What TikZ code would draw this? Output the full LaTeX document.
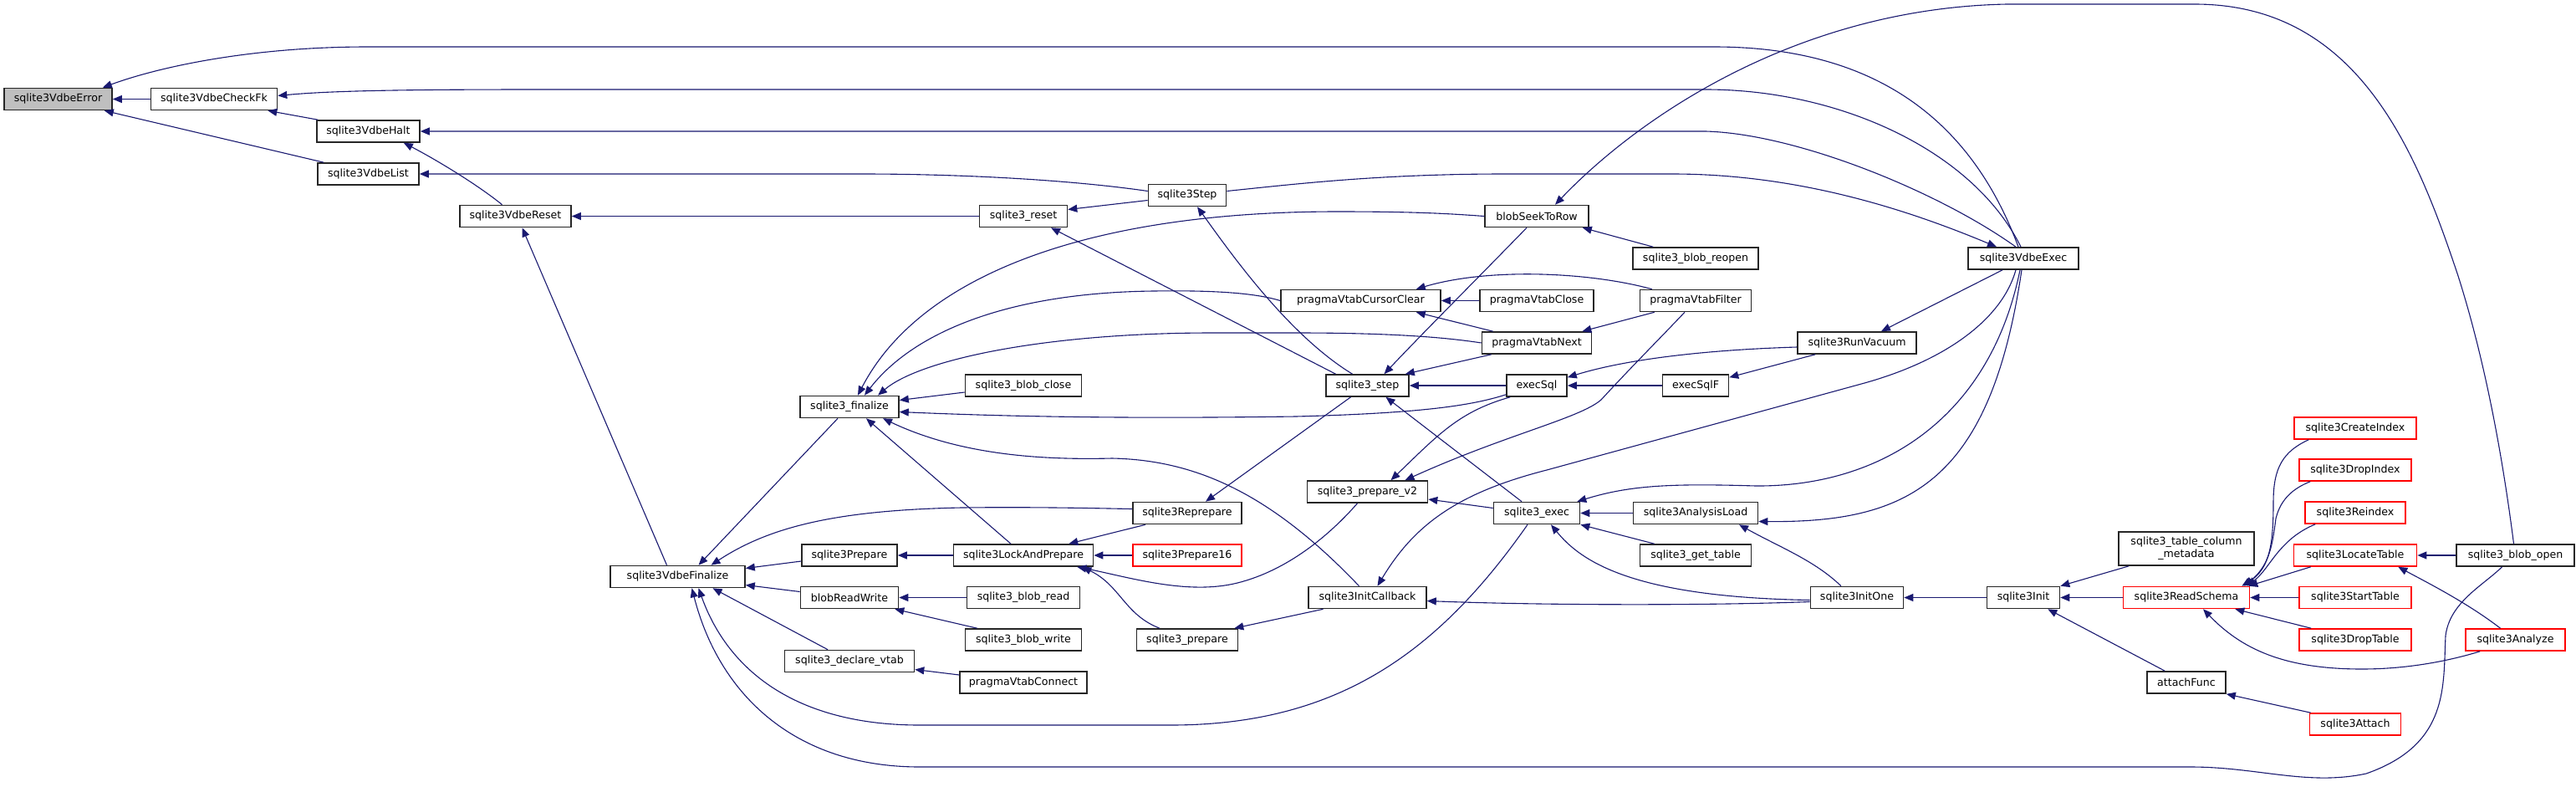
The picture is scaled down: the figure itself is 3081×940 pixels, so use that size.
\documentclass[tikz,border=0pt]{standalone}
\usepackage{fontspec}
\setmainfont{DejaVu Sans}
\usetikzlibrary{arrows.meta}

\definecolor{edgeblue}{HTML}{191970}
\definecolor{rootgrey}{HTML}{BFBFBF}
\definecolor{truncred}{HTML}{FF0000}

\begin{document}
\begin{tikzpicture}[
    x=1pt, y=-1pt,
    font=\fontsize{12.6}{15}\selectfont,
    func/.style={rectangle, draw=black!85, fill=white, line width=1.6pt, minimum height=26pt, inner sep=0pt, align=center},
    root/.style={func, fill=rootgrey},
    trunc/.style={func, draw=truncred},
    call/.style={draw=edgeblue, line width=1.1pt, {Triangle[length=11pt, width=9pt]}-}
]
\useasboundingbox (0,0) rectangle (3081,940);

% Root and its direct callers
\node[root, minimum width=129pt] (error) at (69.5,118.5) {sqlite3VdbeError};
\node[func, minimum width=151pt] (checkfk) at (256,118.5) {sqlite3VdbeCheckFk};
\node[func, minimum width=123pt] (halt) at (440.5,157) {sqlite3VdbeHalt};
\node[func, minimum width=121pt] (list) at (440.5,208) {sqlite3VdbeList};
\node[func, minimum width=133pt] (reset) at (616.5,258.5) {sqlite3VdbeReset};
\node[func, minimum width=161pt] (finalize) at (810.5,689.5) {sqlite3VdbeFinalize};

% Finalize / prepare layer
\node[func, minimum width=118pt] (fin) at (1016,486.5) {sqlite3\_finalize};
\node[func, minimum width=114pt] (prepare) at (1016,664) {sqlite3Prepare};
\node[func, minimum width=117pt] (readwrite) at (1016,714.5) {blobReadWrite};
\node[func, minimum width=155pt] (declarevtab) at (1016,790.5) {sqlite3\_declare\_vtab};
\node[func, minimum width=105pt] (sreset) at (1224,258.5) {sqlite3\_reset};
\node[func, minimum width=139pt] (blobclose) at (1224,461) {sqlite3\_blob\_close};
\node[func, minimum width=167pt] (lockprepare) at (1224,664) {sqlite3LockAndPrepare};
\node[func, minimum width=135pt] (blobread) at (1224,714.5) {sqlite3\_blob\_read};
\node[func, minimum width=139pt] (blobwrite) at (1224,765) {sqlite3\_blob\_write};
\node[func, minimum width=152pt] (vtabconnect) at (1224,816) {pragmaVtabConnect};
\node[func, minimum width=93pt] (step) at (1420,233.5) {sqlite3Step};
\node[func, minimum width=130pt] (reprepare) at (1420,613.5) {sqlite3Reprepare};
\node[trunc, minimum width=130pt] (prepare16) at (1420,664) {sqlite3Prepare16};
\node[func, minimum width=121pt] (sprepare) at (1420,765) {sqlite3\_prepare};

% Step / exec layer
\node[func, minimum width=99pt] (sstep) at (1635.5,461) {sqlite3\_step};
\node[func, minimum width=191pt] (cursorclear) at (1627.5,359.5) {pragmaVtabCursorClear};
\node[func, minimum width=144pt] (preparev2) at (1635.5,588) {sqlite3\_prepare\_v2};
\node[func, minimum width=141pt] (initcallback) at (1635.5,714.5) {sqlite3InitCallback};
\node[func, minimum width=124pt] (seektorow) at (1838,258.5) {blobSeekToRow};
\node[func, minimum width=136pt] (vtabclose) at (1838,359.5) {pragmaVtabClose};
\node[func, minimum width=131pt] (vtabnext) at (1838,410) {pragmaVtabNext};
\node[func, minimum width=72pt] (execsql) at (1838,461) {execSql};
\node[func, minimum width=103pt] (exec) at (1838,613.5) {sqlite3\_exec};
\node[func, minimum width=150pt] (blobreopen) at (2028,309) {sqlite3\_blob\_reopen};
\node[func, minimum width=133pt] (vtabfilter) at (2028,359.5) {pragmaVtabFilter};
\node[func, minimum width=79pt] (execsqlf) at (2028,461) {execSqlF};
\node[func, minimum width=149pt] (analysisload) at (2028,613.5) {sqlite3AnalysisLoad};
\node[func, minimum width=133pt] (gettable) at (2028,664) {sqlite3\_get\_table};
\node[func, minimum width=142pt] (runvacuum) at (2221,410) {sqlite3RunVacuum};
\node[func, minimum width=111pt] (initone) at (2221,714.5) {sqlite3InitOne};
\node[func, minimum width=132pt] (vdbeexec) at (2420,309) {sqlite3VdbeExec};
\node[func, minimum width=87pt] (init) at (2420,714.5) {sqlite3Init};

% Schema layer
\node[func, minimum width=162pt, minimum height=40pt] (metadata) at (2615,656) {sqlite3\_table\_column\\\_metadata};
\node[trunc, minimum width=151pt] (readschema) at (2615,714.5) {sqlite3ReadSchema};
\node[func, minimum width=94pt] (attachfunc) at (2615,816) {attachFunc};
\node[trunc, minimum width=146pt] (createindex) at (2817,512) {sqlite3CreateIndex};
\node[trunc, minimum width=134pt] (dropindex) at (2817,562) {sqlite3DropIndex};
\node[trunc, minimum width=120pt] (reindex) at (2817,613) {sqlite3Reindex};
\node[trunc, minimum width=147pt] (locatetable) at (2817,664) {sqlite3LocateTable};
\node[trunc, minimum width=134pt] (starttable) at (2817,714.5) {sqlite3StartTable};
\node[trunc, minimum width=134pt] (droptable) at (2817,765) {sqlite3DropTable};
\node[trunc, minimum width=109pt] (attach) at (2817,866) {sqlite3Attach};
\node[func, minimum width=141pt] (blobopen) at (3008.5,664) {sqlite3\_blob\_open};
\node[trunc, minimum width=119pt] (analyze) at (3008.5,765) {sqlite3Analyze};

% Calls into the root
\draw[call] ([xshift=-12pt]error.north east) .. controls (190,80) and (300,56) .. (440,56) -- (2050,56) .. controls (2250,56) and (2360,150) .. ([xshift=-6pt]vdbeexec.north);
\draw[call] (error.east) -- (checkfk.west);
\draw[call] ([xshift=-10pt]error.south east) -- ([xshift=8pt]list.north west);
\draw[call] ([xshift=-12pt]checkfk.south east) -- ([xshift=2pt]halt.north west);
\draw[call] ([yshift=4pt]checkfk.east) .. controls (400,108) and (500,107) .. (650,107) -- (2040,107) .. controls (2200,107) and (2360,180) .. ([xshift=-3pt]vdbeexec.north);
\draw[call] (halt.east) -- (2040,157) .. controls (2150,160) and (2320,230) .. ([xshift=-9pt]vdbeexec.north);
\draw[call] ([xshift=-20pt]halt.south east) .. controls (520,190) and (570,220) .. ([xshift=-16pt]reset.north);
\draw[call] (list.east) -- (1030,208) .. controls (1150,208) and (1280,215) .. ([yshift=5pt]step.west);
\draw[call] (reset.east) -- (sreset.west);
\draw[call] ([xshift=8pt]reset.south) -- ([xshift=-13pt]finalize.north);

% sqlite3_reset and sqlite3Step
\draw[call] ([yshift=8pt]sreset.east) -- ([yshift=-6pt]step.west);
\draw[call] ([xshift=33pt]sreset.south) -- ([xshift=-38pt]sstep.north);
\draw[call] ([xshift=12pt]step.south) .. controls (1470,300) and (1540,400) .. ([xshift=-18pt]sstep.north);
\draw[call] ([xshift=-32pt]vdbeexec.north) .. controls (2280,250) and (2150,208) .. (2000,208) -- (1800,208) .. controls (1650,208) and (1550,220) .. ([yshift=5pt]step.east);

% Callers of sqlite3_finalize
\draw[call] ([xshift=10pt]fin.north) .. controls (1100,330) and (1300,253) .. (1600,253) .. controls (1700,253) and (1740,256) .. (seektorow.west);
\draw[call] ([xshift=18pt]fin.north) .. controls (1090,400) and (1200,350) .. (1380,348) .. controls (1450,347) and (1500,350) .. (cursorclear.west);
\draw[call] ([xshift=34pt]fin.north) .. controls (1100,430) and (1250,398) .. (1450,398) -- (1550,398) .. controls (1650,398) and (1720,402) .. (vtabnext.west);
\draw[call] ([yshift=8pt]fin.east) -- ([yshift=-8pt]blobclose.west);
\draw[call] ([yshift=-6pt]fin.east) .. controls (1250,500) and (1400,500) .. (1550,498) .. controls (1700,494) and (1760,485) .. ([yshift=3pt]execsql.south west);
\draw[call] ([xshift=20pt]fin.south) -- ([xshift=-15pt]lockprepare.north);
\draw[call] ([xshift=40pt]fin.south) .. controls (1150,545) and (1250,550) .. (1330,548) .. controls (1430,550) and (1520,590) .. ([xshift=-10pt]initcallback.north);

% Callers of sqlite3VdbeFinalize
\draw[call] ([xshift=25pt]finalize.north) -- ([xshift=-14pt]fin.south);
\draw[call] ([xshift=40pt]finalize.north) .. controls (920,630) and (1000,610) .. (1150,607) .. controls (1250,606) and (1320,608) .. ([yshift=5pt]reprepare.west);
\draw[call] ([yshift=10pt]finalize.east) -- ([yshift=-7pt]prepare.west);
\draw[call] ([yshift=-10pt]finalize.east) -- ([yshift=7pt]readwrite.west);
\draw[call] ([xshift=42pt]finalize.south) -- ([xshift=-26pt]declarevtab.north);
\draw[call] ([xshift=25pt]finalize.south) .. controls (870,800) and (950,867) .. (1100,867) -- (1400,867) .. controls (1600,867) and (1720,780) .. ([xshift=-11pt]exec.south);
\draw[call] ([xshift=17pt]finalize.south) .. controls (860,830) and (950,917) .. (1100,917) -- (2620,917) .. controls (2700,917) and (2760,940) .. (2830,925) .. controls (2930,890) and (2922,820) .. (2925,760) .. controls (2930,720) and (2970,700) .. ([xshift=-16pt]blobopen.south);

% Prepare family
\draw[call] (prepare.east) -- (lockprepare.west);
\draw[call] ([xshift=-30pt]lockprepare.north east) -- ([xshift=-50pt]reprepare.south);
\draw[call] (lockprepare.east) -- (prepare16.west);
\draw[call] ([xshift=-20pt]lockprepare.south east) .. controls (1350,690) and (1420,712) .. (1480,697) .. controls (1540,682) and (1590,640) .. ([xshift=-12pt]preparev2.south);
\draw[call] ([xshift=-14pt]lockprepare.south east) .. controls (1340,700) and (1345,735) .. ([xshift=-33pt]sprepare.north);
\draw[call] (readwrite.east) -- (blobread.west);
\draw[call] ([xshift=-5pt]readwrite.south east) -- ([xshift=15pt]blobwrite.north west);
\draw[call] ([yshift=-10pt]declarevtab.east) -- ([yshift=9pt]vtabconnect.west);
\draw[call] ([xshift=22pt]reprepare.north) -- ([xshift=-20pt]sstep.south);
\draw[call] ([xshift=-5pt]sprepare.north east) -- ([xshift=-53pt]initcallback.south);

% Callers of sqlite3_step
\draw[call] (sstep.east) -- (execsql.west);
\draw[call] ([xshift=-5pt]sstep.north east) -- ([xshift=12pt]vtabnext.south west);
\draw[call] ([xshift=20pt]sstep.north) .. controls (1700,400) and (1760,340) .. ([xshift=-12pt]seektorow.south);
\draw[call] ([xshift=22pt]sstep.south) -- ([xshift=-18pt]exec.north);

% Virtual table helpers
\draw[call] ([xshift=-30pt]cursorclear.north east) .. controls (1780,320) and (1900,325) .. ([xshift=15pt]vtabfilter.north west);
\draw[call] (cursorclear.east) -- (vtabclose.west);
\draw[call] ([xshift=-30pt]cursorclear.south east) -- ([xshift=14pt]vtabnext.north west);
\draw[call] ([xshift=-12pt]vtabnext.north east) -- ([xshift=18pt]vtabfilter.south west);

% Blob helpers
\draw[call] ([xshift=-8pt]seektorow.south east) -- ([xshift=25pt]blobreopen.north west);
\draw[call] ([xshift=22pt]seektorow.north) .. controls (1960,140) and (2150,10) .. (2400,5) -- (2625,5) .. controls (2820,5) and (2890,180) .. (2940,330) .. controls (2975,440) and (2995,560) .. ([xshift=-2pt]blobopen.north);

% execSql and vacuum
\draw[call] (execsql.east) -- (execsqlf.west);
\draw[call] ([yshift=-4pt]execsql.north east) .. controls (1950,428) and (2050,418) .. ([yshift=-5pt]runvacuum.west);
\draw[call] ([yshift=-4pt]execsqlf.north east) -- ([xshift=22pt]runvacuum.south west);
\draw[call] ([xshift=29pt]runvacuum.north) -- ([xshift=-25pt]vdbeexec.south);

% sqlite3_prepare_v2 and sqlite3_exec
\draw[call] ([xshift=28pt]preparev2.north) .. controls (1720,520) and (1745,492) .. ([xshift=5pt]execsql.south west);
\draw[call] ([xshift=45pt]preparev2.north) .. controls (1800,520) and (1890,500) .. (1915,478) .. controls (1950,440) and (1980,410) .. ([xshift=-13pt]vtabfilter.south);
\draw[call] ([yshift=-9pt]preparev2.east) -- ([yshift=6pt]exec.west);
\draw[call] (exec.east) -- (analysisload.west);
\draw[call] (exec.south east) -- ([xshift=18pt]gettable.north west);
\draw[call] ([xshift=17pt]exec.south) .. controls (1890,670) and (1950,714) .. ([yshift=-3pt]initone.west);
\draw[call] ([xshift=52pt]analysisload.south) .. controls (2130,655) and (2170,670) .. ([xshift=-19pt]initone.north);
\draw[call] ([yshift=-4pt]initcallback.east) .. controls (1850,724) and (2050,724) .. ([yshift=-5pt]initone.west);
\draw[call] (initone.east) -- (init.west);
\draw[call] ([xshift=-4pt]exec.north east) .. controls (1950,580) and (2000,578) .. (2100,581) .. controls (2250,582) and (2380,500) .. ([xshift=-4pt]vdbeexec.south);
\draw[call] ([yshift=-10pt]analysisload.east) .. controls (2280,625) and (2380,580) .. ([xshift=-2pt]vdbeexec.south);
\draw[call] ([xshift=12pt]initcallback.north) .. controls (1690,630) and (1740,590) .. (1850,562) -- (2230,458) .. controls (2330,430) and (2395,380) .. ([xshift=-9pt]vdbeexec.south);

% sqlite3Init and schema
\draw[call] (init.north east) -- ([xshift=13pt]metadata.south west);
\draw[call] (init.east) -- (readschema.west);
\draw[call] ([xshift=-15pt]init.south east) -- ([xshift=22pt]attachfunc.north west);
\draw[call] (attachfunc.south east) -- ([xshift=2pt]attach.north west);
\draw[call] ([xshift=-10pt]readschema.north east) .. controls (2715,680) and (2719,650) .. (2719,600) .. controls (2719,560) and (2730,540) .. ([xshift=18pt]createindex.south west);
\draw[call] ([xshift=-7pt]readschema.north east) .. controls (2715,675) and (2718,650) .. (2722,620) .. controls (2728,595) and (2745,583) .. ([xshift=14pt]dropindex.south west);
\draw[call] ([xshift=-4pt]readschema.north east) .. controls (2715,680) and (2725,645) .. ([xshift=13pt]reindex.south west);
\draw[call] ([xshift=-2pt]readschema.north east) -- ([xshift=21pt]locatetable.south west);
\draw[call] (readschema.east) -- (starttable.west);
\draw[call] ([xshift=-18pt]readschema.south east) -- ([xshift=15pt]droptable.north west);
\draw[call] ([xshift=20pt]readschema.south) .. controls (2680,775) and (2730,800) .. (2825,800) .. controls (2880,800) and (2930,790) .. ([xshift=18pt]analyze.south west);
\draw[call] (locatetable.east) -- (blobopen.west);
\draw[call] ([xshift=-23pt]locatetable.south east) .. controls (2900,695) and (2950,720) .. ([xshift=-18pt]analyze.north);

\end{tikzpicture}
\end{document}
